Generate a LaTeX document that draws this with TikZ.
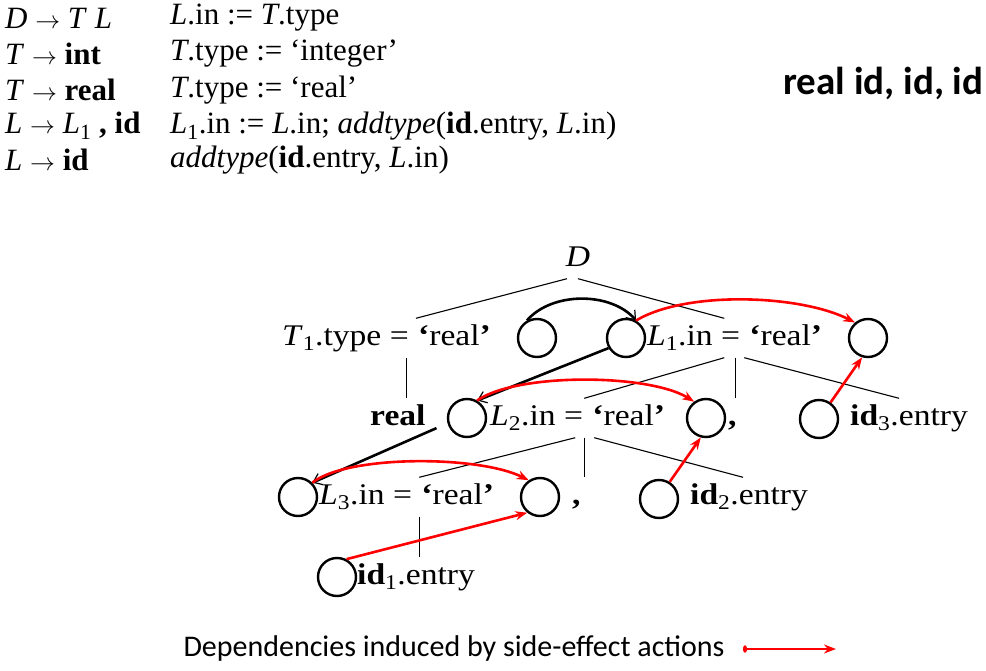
\documentclass[tikz,border=0pt]{standalone}
\usepackage{fontspec}
\setmainfont{Liberation Serif}
\newfontfamily\treefont{Liberation Serif}[FakeStretch=1.12]
\newfontfamily\calibri{Carlito}
\usetikzlibrary{arrows.meta, positioning}
\newcommand{\nt}[1]{\textit{#1}}
\newcommand{\goesto}{\ensuremath{\rightarrow}}
\newcommand{\qreal}{\textbf{‘}real\textbf{’}}

\begin{document}
\begin{tikzpicture}[x=1pt, y=-1pt,
  gram/.style={anchor=west, font=\fontsize{31}{36}\selectfont, inner sep=0pt},
  attr/.style={anchor=west, font=\treefont\fontsize{30}{36}\selectfont, inner xsep=0pt, inner ysep=5pt, text height=22pt, text depth=7pt},
  slot/.style={circle, draw, line width=2.4pt, minimum size=38pt, inner sep=0pt},
  branch/.style={line width=1.1pt},
  copy/.style={line width=2.6pt, -{Straight Barb[length=8pt,width=12pt,line width=1.2pt]}},
  side/.style={red, line width=2.6pt, -{Stealth[length=12pt,width=9pt]}}]
\useasboundingbox (0,0) rectangle (986,671);

% grammar and semantic rules
\foreach \y/\lhs/\rhs [count=\i] in {
  18/{\nt{D} \goesto{} \nt{T} \nt{L}}/{\nt{L}.in := \nt{T}.type},
  54/{\nt{T} \goesto{} \textbf{int}}/{\nt{T}.type := ‘integer’},
  90/{\nt{T} \goesto{} \textbf{real}}/{\nt{T}.type := ‘real’},
  126/{\nt{L} \goesto{} \nt{L}\textsubscript{1} \textbf{, id}}/{\nt{L}\textsubscript{1}.in := \nt{L}.in; \nt{addtype}(\textbf{id}.entry, \nt{L}.in)},
  160/{\nt{L} \goesto{} \textbf{id}}/{\nt{addtype}(\textbf{id}.entry, \nt{L}.in)}}{
  \node[gram] (lhs\i) at (5,\y) {\lhs};
  \node[gram] (rhs\i) at (170,\y) {\rhs};
}
\node[anchor=east, font=\calibri\bfseries\fontsize{39}{44}\selectfont] (input) at (987,83) {real id, id, id};

% parse tree
\node[attr, anchor=center] (D) at (578,259) {\nt{D}};
\node[attr] (t1n) at (282,338) {\nt{T}\textsubscript{1}.type =};
\node[attr, right=9pt of t1n] (t1v) {\qreal};
\node[slot] (c1) at (537,338) {};
\node[slot] (c2) at (626,338) {};
\node[attr] (l1n) at (647,338) {\nt{L}\textsubscript{1}.in =};
\node[attr, right=9pt of l1n] (l1v) {\qreal};
\node[slot] (c3) at (868,338) {};

\node[attr] (kwreal) at (370,418) {\textbf{real}};
\node[slot] (cl2) at (467,418) {};
\node[attr] (l2n) at (490,418) {\nt{L}\textsubscript{2}.in =};
\node[attr, right=9pt of l2n] (l2v) {\qreal};
\node[slot] (cc2) at (706,418) {};
\node[attr] (comma2) at (728,418) {\textbf{,}};
\node[slot] (cid3) at (819,419) {};
\node[attr] (id3) at (850,418) {\textbf{id}\textsubscript{3}.entry};

\node[slot] (cl3) at (298,497) {};
\node[attr] (l3n) at (319,497) {\nt{L}\textsubscript{3}.in =};
\node[attr, right=9pt of l3n] (l3v) {\qreal};
\node[slot] (cc3) at (540,497) {};
\node[attr] (comma3) at (572,497) {\textbf{,}};
\node[slot] (cid2) at (659,499) {};
\node[attr] (id2) at (690,497) {\textbf{id}\textsubscript{2}.entry};

\node[slot] (cid1) at (337,577) {};
\node[attr] (id1) at (357,577) {\textbf{id}\textsubscript{1}.entry};

\draw[branch] ([xshift=-11pt]D.south) -- ([xshift=7pt]t1n.north east);
\draw[branch] (D.south) -- ([xshift=-16pt]l1n.north east);
\draw[branch] ([xshift=-2pt]t1n.south east) -- ([xshift=-2pt]t1n.south east |- kwreal.north);
\draw[branch] ([xshift=-16pt]l1n.south east) -- ([xshift=1pt]l2n.north east);
\draw[branch] ([xshift=-5pt]l1n.south east) -- ([xshift=-5pt]l1n.south east |- comma2.north);
\draw[branch] ([xshift=4pt]l1n.south east) -- ([xshift=-10pt]id3.north);
\draw[branch] ([xshift=-8pt]l2n.south east) -- ([xshift=7pt]l3n.north east);
\draw[branch] ([xshift=1pt]l2n.south east) -- ([xshift=1pt]l2n.south east |- comma3.north);
\draw[branch] ([xshift=11pt]l2n.south east) -- ([xshift=-6pt]id2.north);
\draw[branch] ([xshift=7pt]l3n.south east) -- ([xshift=7pt]l3n.south east |- id1.north);

% dependencies
\draw[copy] (c1.120) .. controls +(25,-29) and +(-25,-29) .. (c2.60);
\draw[copy] (c2.210) -- (cl2.60);
\draw[copy] ([xshift=-13pt]cl2.210) -- (cl3.45);
\draw[side] (c2.60) .. controls +(50,-30) and +(-55,-28) .. (c3.130);
\draw[side] (cl2.60) .. controls +(40,-28) and +(-45,-28) .. (cc2.126);
\draw[side] (cl3.45) .. controls +(35,-28) and +(-50,-25) .. (cc3.124);
\draw[side] (cid3.55) -- (c3.253);
\draw[side] (cid2.58) -- (cc2.255);
\draw[side] (cid1.62) -- (cc3.231);

% legend
\node[anchor=west, font=\calibri\fontsize{30}{34}\selectfont] (legend) at (180,648) {Dependencies induced by side-effect actions};
\coordinate (lstart) at (743,649);
\coordinate (lend) at (836,649);
\draw[side, {Ellipse[length=4pt,width=7pt]}-{Stealth[length=12pt,width=9pt]}] (lstart) -- (lend);
\end{tikzpicture}
\end{document}
